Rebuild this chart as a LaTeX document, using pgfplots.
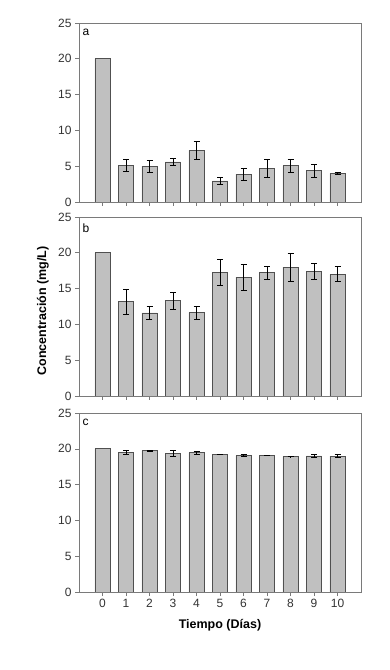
\documentclass[border=0pt]{standalone}
\usepackage{pgfplots}
\usepackage{pgfplotstable}
\pgfplotsset{compat=1.18}
\usepackage{fontspec}
\setmainfont{Liberation Sans}
\definecolor{barfill}{HTML}{C0C0C0}
\definecolor{baredge}{HTML}{505050}
\definecolor{axgray}{HTML}{7A7A7A}

\pgfplotstableread{
x y e
0 20.0 0
1 5.1 0.85
2 5.0 0.82
3 5.6 0.52
4 7.2 1.3
5 2.95 0.53
6 3.9 0.82
7 4.7 1.2
8 5.05 0.88
9 4.35 0.85
10 4.0 0.08
}\tA

\pgfplotstableread{
x y e
0 20.0 0
1 13.15 1.7
2 11.6 0.86
3 13.3 1.15
4 11.65 0.9
5 17.3 1.8
6 16.6 1.8
7 17.2 0.85
8 18.0 1.95
9 17.35 1.12
10 17.0 1.05
}\tB

\pgfplotstableread{
x y e
0 20.0 0
1 19.5 0.25
2 19.72 0.1
3 19.32 0.42
4 19.45 0.22
5 19.22 0.05
6 19.04 0.15
7 19.09 0.05
8 18.92 0.03
9 19.0 0.2
10 18.98 0.2
}\tC

\pgfplotsset{panel/.style={
  scale only axis, width=282pt, height=179pt,
  xmin=-1, xmax=11, ymin=0, ymax=25,
  ytick={0,5,...,25}, xtick={0,...,10},
  axis line style={axgray, line width=0.8pt},
  every tick/.style={axgray, line width=0.6pt},
  tick align=outside, major tick length=4pt,
  xtick pos=bottom, ytick pos=left,
  ticklabel style={font=\fontsize{12}{14}\selectfont, text=black!80},
  /pgf/number format/assume math mode=true,
  ybar, bar width=0.65, bar shift=0pt,
  anchor=south west,
},
bars/.style={ybar, bar shift=0pt, fill=barfill, draw=baredge, line width=0.7pt},
errs/.style={draw=none, fill=none, forget plot, bar shift=0pt,
  error bars/.cd, y dir=both, y explicit,
  error bar style={draw=black, line width=0.6pt},
  error mark options={rotate=90, mark size=3pt, draw=black, line width=0.6pt}},
}
\tikzset{panellabel/.style={anchor=north west, inner sep=0pt, font=\fontsize{12}{14}\selectfont}}

\begin{document}
\begin{tikzpicture}[x=1pt,y=1pt]
\path[use as bounding box] (0,0) rectangle (390,670);

\begin{axis}[panel, at={(79pt,468pt)}, xticklabels={}]
\addplot[bars] table[x=x, y=y] {\tA};
\addplot[errs] table[x=x, y=y, y error=e, skip coords between index={0}{1}] {\tA};
\node[panellabel] at (rel axis cs:0.012,0.965) {a};
\end{axis}

\begin{axis}[panel, at={(79pt,274pt)}, xticklabels={},
  ylabel={Concentración (mg/L)},
  ylabel style={at={(axis description cs:-0.128,0.475)}, anchor=center, font=\bfseries\fontsize{12.5}{14}\selectfont}]
\addplot[bars] table[x=x, y=y] {\tB};
\addplot[errs] table[x=x, y=y, y error=e, skip coords between index={0}{1}] {\tB};
\node[panellabel] at (rel axis cs:0.012,0.965) {b};
\end{axis}

\begin{axis}[panel, at={(79pt,78pt)},
  xlabel={Tiempo (Días)},
  xlabel style={at={(axis description cs:0.5,-0.184)}, anchor=center, font=\bfseries\fontsize{12.5}{14}\selectfont}]
\addplot[bars] table[x=x, y=y] {\tC};
\addplot[errs] table[x=x, y=y, y error=e, skip coords between index={0}{1}] {\tC};
\node[panellabel] at (rel axis cs:0.012,0.965) {c};
\end{axis}
\end{tikzpicture}
\end{document}
